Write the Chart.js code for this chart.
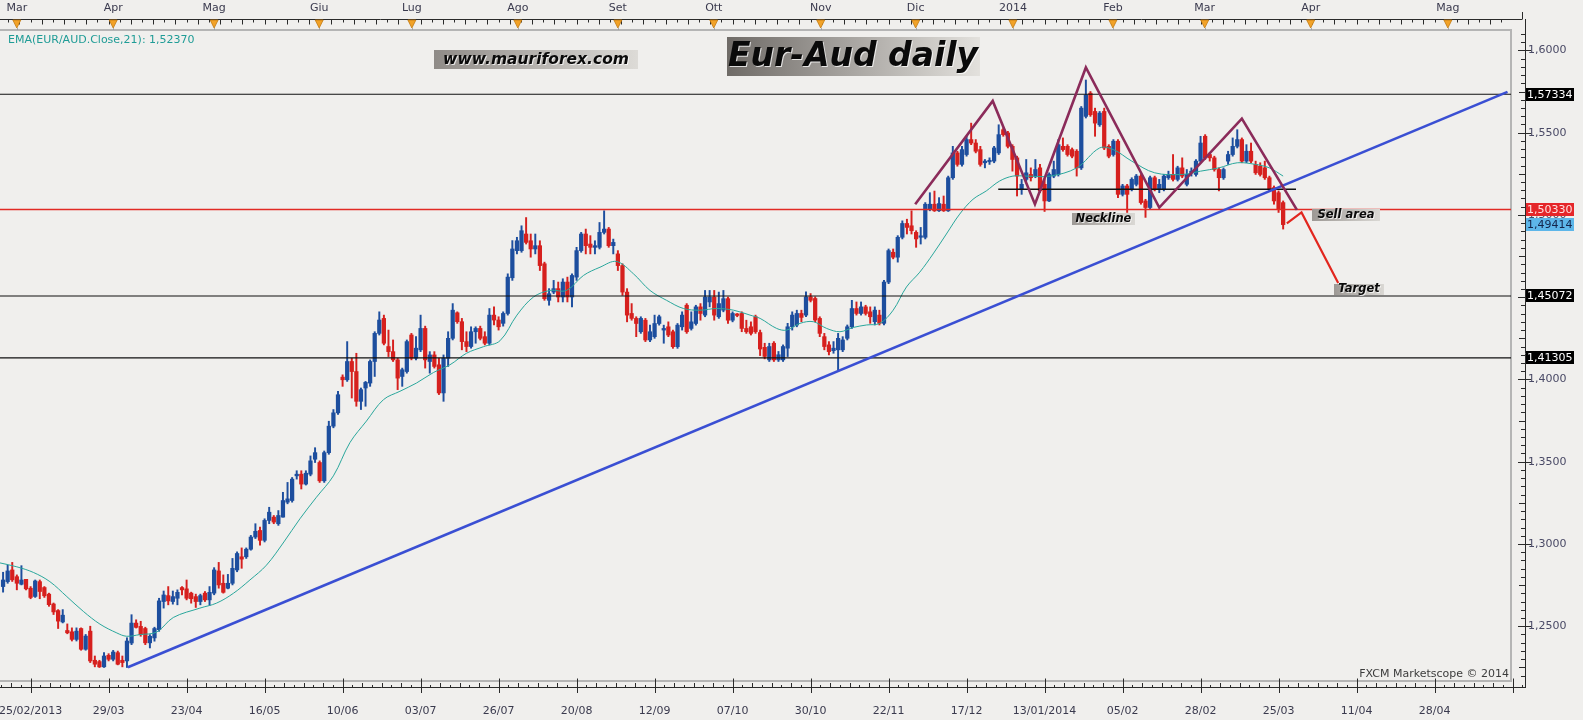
<!DOCTYPE html>
<html><head><meta charset="utf-8">
<script src="https://cdn.jsdelivr.net/npm/chart.js@4.4.1/dist/chart.umd.min.js"></script>
<style>html,body{margin:0;padding:0;background:#f0efed;overflow:hidden}#wrap{width:1583px;height:720px;position:relative}</style>
</head><body><div id="wrap"><canvas id="c"></canvas></div>
<script>
// ---------- DATA ----------
const firstBar = 1; // bar index of the first candle
const opens = [
1.2741,1.2771,1.2842,1.2801,1.2755,1.2785,1.2731,1.2681,1.2771,1.2735,
1.2695,1.2635,1.2595,1.2526,1.2474,1.2466,1.2420,1.2486,1.2360,1.2470,
1.2293,1.2285,1.2253,1.2323,1.2299,1.2339,1.2293,1.2289,1.2398,1.2519,
1.2499,1.2486,1.2399,1.2429,1.2479,1.2650,1.2686,1.2650,1.2670,1.2735,
1.2727,1.2701,1.2680,1.2650,1.2701,1.2660,1.2701,1.2836,1.2761,1.2731,
1.2761,1.2842,1.2922,1.2922,1.2968,1.3042,1.3082,1.3022,1.3143,1.3163,
1.3123,1.3163,1.3254,1.3264,1.3414,1.3424,1.3364,1.3424,1.3515,1.3495,
1.3384,1.3555,1.3716,1.3797,1.4014,1.3998,1.4109,1.4048,1.3867,1.3948,
1.3978,1.4109,1.4280,1.4371,1.4200,1.4169,1.4119,1.4018,1.4048,1.4270,
1.4129,1.4180,1.4310,1.4109,1.4149,1.4089,1.3918,1.4129,1.4250,1.4405,
1.4351,1.4230,1.4200,1.4290,1.4310,1.4260,1.4220,1.4391,1.4361,1.4341,
1.4401,1.4618,1.4783,1.4783,1.4884,1.4843,1.4793,1.4813,1.4703,1.4481,
1.4531,1.4552,1.4501,1.4592,1.4501,1.4622,1.4783,1.4884,1.4823,1.4803,
1.4803,1.4894,1.4914,1.4813,1.4763,1.4692,1.4531,1.4401,1.4371,1.4290,
1.4360,1.4240,1.4260,1.4340,1.4300,1.4320,1.4290,1.4199,1.4320,1.4451,
1.4310,1.4340,1.4441,1.4391,1.4471,1.4501,1.4381,1.4421,1.4491,1.4360,
1.4397,1.4401,1.4310,1.4320,1.4381,1.4285,1.4195,1.4119,1.4220,1.4119,
1.4119,1.4190,1.4320,1.4331,1.4401,1.4391,1.4502,1.4492,1.4371,1.4260,
1.4210,1.4175,1.4180,1.4180,1.4250,1.4320,1.4431,1.4401,1.4441,1.4411,
1.4351,1.4391,1.4341,1.4592,1.4773,1.4743,1.4864,1.4948,1.4934,1.4894,
1.4864,1.4864,1.5035,1.5065,1.5025,1.5065,1.5025,1.5226,1.5377,1.5307,
1.5367,1.5458,1.5437,1.5397,1.5317,1.5323,1.5327,1.5377,1.5518,1.5498,
1.5417,1.5347,1.5156,1.5216,1.5246,1.5236,1.5286,1.5186,1.5085,1.5236,
1.5246,1.5417,1.5417,1.5397,1.5387,1.5286,1.5599,1.5740,1.5629,1.5548,
1.5629,1.5417,1.5367,1.5448,1.5125,1.5176,1.5156,1.5186,1.5236,1.5085,
1.5045,1.5226,1.5156,1.5156,1.5226,1.5246,1.5216,1.5286,1.5186,1.5256,
1.5246,1.5327,1.5478,1.5367,1.5347,1.5276,1.5226,1.5327,1.5367,1.5417,
1.5458,1.5327,1.5387,1.5307,1.5296,1.5286,1.5226,1.5166,1.5135,1.5075];
const highs = [
1.2828,1.2872,1.2888,1.2812,1.2868,1.2785,1.2741,1.2781,1.2781,1.2741,
1.2701,1.2641,1.2601,1.2601,1.2514,1.2490,1.2490,1.2490,1.2450,1.2500,
1.2319,1.2293,1.2339,1.2333,1.2353,1.2349,1.2319,1.2430,1.2570,1.2539,
1.2530,1.2494,1.2449,1.2494,1.2670,1.2714,1.2741,1.2714,1.2721,1.2741,
1.2781,1.2707,1.2695,1.2695,1.2711,1.2741,1.2856,1.2888,1.2812,1.2815,
1.2912,1.2952,1.2976,1.2976,1.3052,1.3123,1.3102,1.3153,1.3223,1.3173,
1.3203,1.3314,1.3374,1.3404,1.3445,1.3445,1.3445,1.3535,1.3585,1.3505,
1.3565,1.3746,1.3817,1.3927,1.4028,1.4230,1.4129,1.4159,1.3948,1.3988,
1.4119,1.4290,1.4411,1.4391,1.4300,1.4240,1.4129,1.4069,1.4240,1.4280,
1.4260,1.4391,1.4324,1.4169,1.4169,1.4129,1.4149,1.4290,1.4461,1.4411,
1.4371,1.4290,1.4320,1.4320,1.4324,1.4290,1.4431,1.4441,1.4381,1.4411,
1.4642,1.4844,1.4864,1.4934,1.4984,1.4884,1.4884,1.4843,1.4713,1.4552,
1.4602,1.4592,1.4612,1.4622,1.4642,1.4803,1.4894,1.4914,1.4874,1.4843,
1.4954,1.5025,1.4924,1.4853,1.4783,1.4703,1.4552,1.4461,1.4381,1.4381,
1.4371,1.4330,1.4391,1.4391,1.4330,1.4350,1.4300,1.4340,1.4411,1.4461,
1.4411,1.4451,1.4461,1.4541,1.4541,1.4541,1.4531,1.4541,1.4501,1.4411,
1.4401,1.4411,1.4360,1.4350,1.4391,1.4300,1.4220,1.4220,1.4230,1.4170,
1.4210,1.4341,1.4411,1.4421,1.4421,1.4532,1.4522,1.4502,1.4381,1.4280,
1.4230,1.4230,1.4280,1.4260,1.4331,1.4481,1.4471,1.4471,1.4451,1.4441,
1.4441,1.4421,1.4602,1.4793,1.4793,1.4874,1.4964,1.4974,1.5025,1.4904,
1.4924,1.5075,1.5135,1.5145,1.5105,1.5115,1.5236,1.5417,1.5387,1.5417,
1.5478,1.5558,1.5458,1.5417,1.5337,1.5347,1.5417,1.5548,1.5528,1.5508,
1.5427,1.5357,1.5216,1.5337,1.5286,1.5337,1.5307,1.5216,1.5256,1.5327,
1.5458,1.5468,1.5427,1.5407,1.5397,1.5659,1.5820,1.5750,1.5649,1.5629,
1.5649,1.5427,1.5458,1.5458,1.5186,1.5186,1.5226,1.5246,1.5246,1.5095,
1.5236,1.5236,1.5216,1.5246,1.5266,1.5367,1.5296,1.5347,1.5276,1.5286,
1.5337,1.5478,1.5488,1.5377,1.5357,1.5286,1.5286,1.5387,1.5468,1.5518,
1.5468,1.5427,1.5437,1.5327,1.5317,1.5327,1.5236,1.5176,1.5146,1.5085];
const lows = [
1.2707,1.2761,1.2772,1.2721,1.2751,1.2721,1.2667,1.2675,1.2667,1.2675,
1.2621,1.2571,1.2486,1.2520,1.2454,1.2410,1.2410,1.2354,1.2354,1.2279,
1.2253,1.2249,1.2249,1.2289,1.2289,1.2265,1.2253,1.2249,1.2388,1.2489,
1.2439,1.2388,1.2368,1.2409,1.2469,1.2610,1.2630,1.2634,1.2630,1.2690,
1.2660,1.2640,1.2614,1.2630,1.2650,1.2626,1.2691,1.2731,1.2701,1.2727,
1.2751,1.2831,1.2852,1.2912,1.2962,1.3033,1.2992,1.3012,1.3123,1.3123,
1.3113,1.3163,1.3244,1.3254,1.3394,1.3334,1.3358,1.3414,1.3495,1.3374,
1.3374,1.3545,1.3706,1.3787,1.3958,1.3988,1.3887,1.3837,1.3817,1.3837,
1.3958,1.4018,1.4270,1.4210,1.4139,1.4109,1.3938,1.3958,1.4038,1.4119,
1.4119,1.4169,1.4069,1.4038,1.4069,1.3908,1.3867,1.4079,1.4240,1.4341,
1.4180,1.4169,1.4190,1.4220,1.4240,1.4210,1.4210,1.4331,1.4300,1.4324,
1.4391,1.4602,1.4763,1.4773,1.4823,1.4743,1.4763,1.4662,1.4481,1.4451,
1.4521,1.4471,1.4471,1.4471,1.4441,1.4602,1.4773,1.4763,1.4763,1.4763,
1.4793,1.4884,1.4803,1.4763,1.4662,1.4511,1.4350,1.4360,1.4260,1.4280,
1.4230,1.4230,1.4250,1.4330,1.4220,1.4260,1.4189,1.4189,1.4300,1.4280,
1.4300,1.4330,1.4360,1.4381,1.4441,1.4360,1.4371,1.4411,1.4340,1.4350,
1.4381,1.4290,1.4280,1.4270,1.4280,1.4145,1.4125,1.4109,1.4109,1.4109,
1.4109,1.4139,1.4300,1.4320,1.4351,1.4381,1.4471,1.4351,1.4260,1.4180,
1.4149,1.4159,1.4059,1.4169,1.4240,1.4310,1.4391,1.4391,1.4391,1.4341,
1.4331,1.4331,1.4331,1.4582,1.4733,1.4713,1.4854,1.4884,1.4884,1.4803,
1.4823,1.4854,1.5025,1.5021,1.5021,1.5021,1.5021,1.5216,1.5296,1.5296,
1.5357,1.5427,1.5377,1.5296,1.5286,1.5307,1.5317,1.5367,1.5478,1.5407,
1.5266,1.5115,1.5125,1.5206,1.5206,1.5226,1.5135,1.5021,1.5081,1.5226,
1.5236,1.5387,1.5357,1.5347,1.5236,1.5276,1.5589,1.5599,1.5478,1.5538,
1.5397,1.5347,1.5357,1.5105,1.5115,1.5015,1.5146,1.5176,1.5065,1.4985,
1.5035,1.5146,1.5135,1.5146,1.5216,1.5206,1.5206,1.5226,1.5176,1.5236,
1.5236,1.5317,1.5337,1.5327,1.5266,1.5146,1.5216,1.5307,1.5357,1.5407,
1.5317,1.5317,1.5317,1.5246,1.5236,1.5216,1.5146,1.5065,1.5015,1.4914];
const closes = [
1.2781,1.2836,1.2782,1.2761,1.2781,1.2727,1.2675,1.2775,1.2711,1.2685,
1.2631,1.2587,1.2531,1.2567,1.2460,1.2420,1.2470,1.2360,1.2440,1.2289,
1.2269,1.2253,1.2319,1.2299,1.2343,1.2269,1.2279,1.2410,1.2519,1.2493,
1.2449,1.2399,1.2439,1.2486,1.2654,1.2690,1.2654,1.2680,1.2706,1.2721,
1.2670,1.2667,1.2650,1.2686,1.2660,1.2706,1.2842,1.2751,1.2706,1.2761,
1.2852,1.2942,1.2908,1.2968,1.3042,1.3077,1.3022,1.3143,1.3193,1.3133,
1.3173,1.3264,1.3274,1.3394,1.3424,1.3364,1.3430,1.3505,1.3555,1.3384,
1.3555,1.3716,1.3797,1.3907,1.3998,1.4109,1.4048,1.3867,1.3938,1.3982,
1.4109,1.4280,1.4361,1.4220,1.4169,1.4119,1.4008,1.4059,1.4230,1.4129,
1.4190,1.4310,1.4119,1.4149,1.4079,1.3918,1.4129,1.4250,1.4421,1.4351,
1.4230,1.4200,1.4290,1.4310,1.4250,1.4220,1.4391,1.4361,1.4320,1.4401,
1.4622,1.4793,1.4843,1.4904,1.4833,1.4793,1.4813,1.4692,1.4491,1.4521,
1.4552,1.4501,1.4592,1.4501,1.4632,1.4783,1.4884,1.4813,1.4803,1.4813,
1.4894,1.4914,1.4813,1.4833,1.4692,1.4531,1.4391,1.4371,1.4340,1.4371,
1.4240,1.4290,1.4340,1.4381,1.4310,1.4270,1.4199,1.4330,1.4391,1.4290,
1.4350,1.4441,1.4401,1.4501,1.4501,1.4391,1.4461,1.4491,1.4360,1.4401,
1.4389,1.4310,1.4290,1.4280,1.4290,1.4185,1.4140,1.4200,1.4119,1.4150,
1.4200,1.4320,1.4391,1.4401,1.4377,1.4502,1.4481,1.4361,1.4280,1.4200,
1.4169,1.4190,1.4250,1.4240,1.4320,1.4431,1.4401,1.4441,1.4401,1.4381,
1.4421,1.4341,1.4592,1.4783,1.4743,1.4864,1.4948,1.4924,1.4904,1.4854,
1.4868,1.5065,1.5065,1.5025,1.5069,1.5025,1.5226,1.5377,1.5307,1.5397,
1.5458,1.5437,1.5387,1.5307,1.5327,1.5331,1.5407,1.5488,1.5488,1.5417,
1.5337,1.5236,1.5186,1.5256,1.5226,1.5276,1.5146,1.5085,1.5246,1.5276,
1.5427,1.5397,1.5367,1.5357,1.5286,1.5649,1.5729,1.5609,1.5558,1.5619,
1.5407,1.5357,1.5448,1.5125,1.5176,1.5125,1.5216,1.5236,1.5075,1.5045,
1.5226,1.5156,1.5186,1.5236,1.5246,1.5216,1.5286,1.5236,1.5246,1.5266,
1.5327,1.5437,1.5347,1.5347,1.5276,1.5226,1.5276,1.5367,1.5417,1.5458,
1.5327,1.5387,1.5327,1.5256,1.5246,1.5226,1.5156,1.5085,1.5035,1.4941];

// EMA(21) (bar index, value)
const emaIdx = [0.3,4,7.6,11.2,14.9,18.5,22.1,25.8,27.9,30.8,34.5,38.1,43.9,47.5,51.2,54.8,58.4,62.2,65.7,69.3,73,76.6,80.2,83.9,87.5,91.1,94.8,98.4,102,105.7,109.3,113,116.6,120.2,123.8,127.5,131.1,134.7,138.4,142,145.6,149.3,152.9,156.5,160.2,163.8,166,169.6,171.8,174.7,177.6,180.5,183.4,186.3,189.2,192.1,195,197.9,200.8,203.7,206.6,209.5,212.4,215.3,218.2,221.1,224,229.2,235,240,243,247,252,258,262,266,270,274,277,280];
const emaVal = [1.2885,1.2861,1.2827,1.2771,1.2680,1.2590,1.2513,1.2459,1.2439,1.2449,1.2465,1.2553,1.2610,1.2640,1.2700,1.2781,1.2871,1.3012,1.3153,1.3284,1.3414,1.3616,1.3747,1.3877,1.3928,1.3978,1.4042,1.4089,1.4159,1.4199,1.4235,1.4391,1.4501,1.4541,1.4541,1.4632,1.4682,1.4717,1.4642,1.4541,1.4481,1.4431,1.4421,1.4431,1.4421,1.4391,1.4371,1.4310,1.4300,1.4341,1.4351,1.4310,1.4290,1.4316,1.4331,1.4341,1.4421,1.4562,1.4652,1.4763,1.4884,1.5005,1.5095,1.5146,1.5206,1.5236,1.5236,1.5236,1.5286,1.5407,1.5397,1.5327,1.5256,1.5246,1.5266,1.5286,1.5317,1.5307,1.5286,1.5236];

// horizontal levels drawn across the chart
const blackLevels = [1.57334, 1.45072, 1.41305];
const redLevels = [1.50330];
// price tags on the right axis
const tagLevels = [1.57334, 1.50330, 1.49414, 1.45072, 1.41305];

// hand-drawn annotations (bar index, price)
const trendIdx = [28.2, 328.9];
const trendVal = [1.2251, 1.5748];
const patternIdx = [199.8, 216.7, 225.9, 237.0, 253.0, 271.0, 283.0];
const patternVal = [1.5065, 1.5693, 1.5065, 1.5896, 1.5045, 1.5585, 1.5031];
const arrowIdx = [280.8, 284.0, 292.0];
const arrowVal = [1.4948, 1.5015, 1.4586];
const necklineIdx = [217.9, 282.8];
const necklineVal = [1.5156, 1.5156];

// axes
const monthTickIdx = [4.0, 25.0, 47.0, 69.9, 90.1, 113.2, 135.0, 155.9, 179.2, 199.9, 221.1, 242.9, 262.9, 286.0, 315.9];
const monthLabels = ['Mar','Apr','Mag','Giu','Lug','Ago','Set','Ott','Nov','Dic','2014','Feb','Mar','Apr','Mag'];
const dateTickIdx = [7,24,41,58,75,92,109,126,143,160,177,194,211,228,245,262,279,296,313];
const dateLabels = ['25/02/2013','29/03','23/04','16/05','10/06','03/07','26/07','20/08','12/09','07/10','30/10','22/11','17/12','13/01/2014','05/02','28/02','25/03','11/04','28/04'];
const yTicks = [1.25, 1.30, 1.35, 1.40, 1.45, 1.50, 1.55, 1.60];
const xRange = [0.33, 329.66];
const yRange = [1.2167, 1.6124];

// ---------- CHART ----------
Chart.defaults.font.family = "'DejaVu Sans', sans-serif";
const BLUE = '#1d4e9e', RED = '#d6201e';
const barIdx = opens.map((_, k) => k + firstBar);
const candleColors = opens.map((o, k) => closes[k] >= o ? BLUE : RED);
const pts = (xs, ys) => xs.map((x, k) => ({x, y: ys[k]}));
const levelLine = (v, color, w, order) => ({type:'line', data: [{x:xRange[0], y:v},{x:xRange[1], y:v}], borderColor: color, borderWidth: w, pointRadius: 0, order});

const fmt = v => v.toFixed(4).replace('.', ',');
const fmt5 = v => v.toFixed(5).replace('.', ',');

const decor = {
  id: 'decor',
  beforeDraw(chart) {
    const {ctx, chartArea: a} = chart;
    ctx.save();
    ctx.fillStyle = '#f0efed';
    ctx.fillRect(0, 0, chart.width, chart.height);
    ctx.strokeStyle = '#b5b5b5';
    ctx.lineWidth = 2;
    ctx.strokeRect(-5, a.top, a.right + 5, a.bottom - a.top);
    ctx.restore();
  },
  afterDraw(chart) {
    const {ctx, chartArea: a} = chart;
    const xs = chart.scales.x, xt = chart.scales.xTop, ys = chart.scales.y;
    ctx.save();
    ctx.strokeStyle = '#2a2a2a';
    ctx.lineWidth = 1;
    // top ruler
    ctx.beginPath();
    ctx.moveTo(0, 19.5); ctx.lineTo(1522, 19.5);
    ctx.moveTo(1522.5, 12); ctx.lineTo(1522.5, 19.5);
    let n = 0;
    for (let v = dateTickIdx[0] - 17; v <= xRange[1]; v += 17 / 7, n++) {
      const px = Math.round(xt.getPixelForValue(v)) + 0.5;
      if (px < 0 || px > 1520) continue;
      ctx.moveTo(px, 19.5); ctx.lineTo(px, 19.5 + (n % 2 ? 3 : 5));
    }
    // bottom ruler
    ctx.moveTo(0, 687.5); ctx.lineTo(1525, 687.5);
    n = 0;
    for (let v = dateTickIdx[0] - 17; v <= xRange[1] + 3; v += 17 / 8, n++) {
      const px = Math.round(xs.getPixelForValue(v)) + 0.5;
      if (px < 0 || px > 1524) continue;
      const len = (n % 8 === 0) ? 9 : (n % 2 ? 2.5 : 4.5);
      ctx.moveTo(px, 687.5); ctx.lineTo(px, 687.5 - len);
      if (n % 8 === 0) { ctx.moveTo(px, 687.5); ctx.lineTo(px, 693); }
    }
    // right axis
    ctx.moveTo(1525.5, 19); ctx.lineTo(1525.5, 688);
    for (let k = Math.ceil(yRange[0] / 0.005); k * 0.005 <= yRange[1]; k++) {
      const v = k * 0.005;
      const py = Math.round(ys.getPixelForValue(v)) + 0.5;
      if (k % 10 === 0) { ctx.moveTo(1518, py); ctx.lineTo(1531, py); }
      else if (k % 5 === 0) { ctx.moveTo(1519, py); ctx.lineTo(1525, py); }
      else { ctx.moveTo(1521, py); ctx.lineTo(1525, py); }
    }
    ctx.stroke();

    // month triangles
    monthTickIdx.forEach(v => {
      const px = xt.getPixelForValue(v);
      ctx.beginPath();
      ctx.moveTo(px - 4, 20); ctx.lineTo(px + 4, 20); ctx.lineTo(px, 28); ctx.closePath();
      ctx.fillStyle = '#f2a227'; ctx.fill();
      ctx.strokeStyle = '#c27a12'; ctx.lineWidth = 0.8; ctx.stroke();
      ctx.beginPath(); ctx.moveTo(Math.round(px) + 0.5, 28); ctx.lineTo(Math.round(px) + 0.5, 30);
      ctx.strokeStyle = '#999'; ctx.stroke();
    });

    // right axis price tags
    const tagStyle = [['#000000','#ffffff'],['#e5262a','#ffe0e0'],['#5db6e9','#14244a'],['#000000','#ffffff'],['#000000','#ffffff']];
    ctx.font = '11px "DejaVu Sans"';
    ctx.textBaseline = 'middle';
    ctx.textAlign = 'left';
    tagLevels.forEach((v, k) => {
      const py = ys.getPixelForValue(v);
      ctx.fillStyle = tagStyle[k][0];
      ctx.fillRect(1526, Math.round(py - 6.5), 48, 13);
      ctx.fillStyle = tagStyle[k][1];
      ctx.fillText(fmt5(v), 1527, py + 0.5);
    });

    // text boxes
    const box = (x0, y0, x1, y1, c0, c1) => {
      const g = ctx.createLinearGradient(x0, 0, x1, 0);
      g.addColorStop(0, c0); g.addColorStop(1, c1);
      ctx.fillStyle = g; ctx.fillRect(x0, y0, x1 - x0, y1 - y0);
    };
    const label = (txt, cx, cy, font) => {
      ctx.font = font; ctx.textAlign = 'center'; ctx.textBaseline = 'middle';
      ctx.fillStyle = 'rgba(255,255,255,0.75)'; ctx.fillText(txt, cx + 1, cy + 1);
      ctx.fillStyle = '#0a0a0a'; ctx.fillText(txt, cx, cy);
    };
    box(434, 50, 638, 69, '#8f8b87', '#dddbd7');
    label('www.mauriforex.com', 536, 59.5, 'italic bold 15.5px "DejaVu Sans"');
    box(727, 37, 980, 76, '#6f6b67', '#e3e1dd');
    label('Eur-Aud daily', 853, 57, 'italic bold 33px "DejaVu Sans"');
    box(1072, 213, 1135, 225, '#9d9995', '#dad8d4');
    label('Neckline', 1103.5, 219.5, 'italic bold 11.5px "DejaVu Sans"');
    box(1312, 209, 1380, 221, '#9d9995', '#dad8d4');
    label('Sell area', 1346, 215.5, 'italic bold 11.5px "DejaVu Sans"');
    box(1334, 284, 1384, 295, '#9d9995', '#dad8d4');
    label('Target', 1359, 289.5, 'italic bold 11.5px "DejaVu Sans"');

    // EMA legend + copyright
    ctx.font = '11px "DejaVu Sans"';
    ctx.textAlign = 'left'; ctx.textBaseline = 'middle';
    ctx.fillStyle = '#1f9c96';
    ctx.fillText('EMA(EUR/AUD.Close,21): 1,52370', 8, 40);
    ctx.textAlign = 'right';
    ctx.fillStyle = '#3c3c3c';
    ctx.fillText('FXCM Marketscope \u00A9 2014', 1509, 674);
    ctx.restore();
  }
};

const datasets = [
  {type:'bar', data: barIdx.map((x, k) => ({x, y:[lows[k], highs[k]]})), backgroundColor: candleColors, barThickness: 1.3, grouped: false, order: 30},
  {type:'bar', data: barIdx.map((x, k) => ({x, y:[opens[k], closes[k]]})), backgroundColor: candleColors, barThickness: 3.6, minBarLength: 1.5, grouped: false, order: 29},
  {type:'line', data: pts(emaIdx, emaVal), borderColor: '#2aa79c', borderWidth: 1, pointRadius: 0, tension: 0.35, order: 28},
  ...blackLevels.map(v => levelLine(v, '#111111', 1.2, 20)),
  ...redLevels.map(v => levelLine(v, '#e12a24', 1.4, 19)),
  {type:'line', data: pts(necklineIdx, necklineVal), borderColor: '#111111', borderWidth: 1.3, pointRadius: 0, order: 18},
  {type:'line', data: pts(trendIdx, trendVal), borderColor: '#3a4fd3', borderWidth: 2.6, pointRadius: 0, order: 17},
  {type:'line', data: pts(patternIdx, patternVal), borderColor: '#8b2b5a', borderWidth: 2.6, pointRadius: 0, order: 16},
  {type:'line', data: pts(arrowIdx, arrowVal), borderColor: '#e2261e', borderWidth: 2.2, pointRadius: 0, order: 15}
];

const xCommon = {
  type: 'linear', min: xRange[0], max: xRange[1], offset: false,
  grid: {display: false, drawTicks: false}, border: {display: false}
};

new Chart(document.getElementById('c'), {
  type: 'bar',
  data: {datasets},
  options: {
    responsive: true, maintainAspectRatio: false, animation: false,
    layout: {padding: 0},
    plugins: {legend: {display: false}, tooltip: {enabled: false}},
    scales: {
      x: {...xCommon, position: 'bottom',
        afterBuildTicks: s => { s.ticks = dateTickIdx.map(v => ({value: v})); },
        afterFit: s => { s.height = 39; s.paddingLeft = 0; s.paddingRight = 0; },
        ticks: {autoSkip: false, maxRotation: 0, minRotation: 0, padding: 24, color: '#3a3a4e', font: {size: 11},
          callback: (v, i) => dateLabels[i]}},
      xTop: {...xCommon, axis: 'x', position: 'top',
        afterBuildTicks: s => { s.ticks = monthTickIdx.map(v => ({value: v})); },
        afterFit: s => { s.height = 30; s.paddingLeft = 0; s.paddingRight = 0; },
        ticks: {autoSkip: false, maxRotation: 0, minRotation: 0, padding: 15, color: '#3a3a4e', font: {size: 11},
          callback: (v, i) => monthLabels[i]}},
      y: {type: 'linear', position: 'right', min: yRange[0], max: yRange[1],
        grid: {display: false, drawTicks: false}, border: {display: false},
        afterBuildTicks: s => { s.ticks = yTicks.map(v => ({value: v})); },
        afterFit: s => { s.width = 72; s.paddingTop = 0; s.paddingBottom = 0; },
        ticks: {padding: 17, color: '#4a4a66', font: {size: 11}, callback: v => fmt(v)}}
    }
  },
  plugins: [decor]
});
</script>
</body></html>
